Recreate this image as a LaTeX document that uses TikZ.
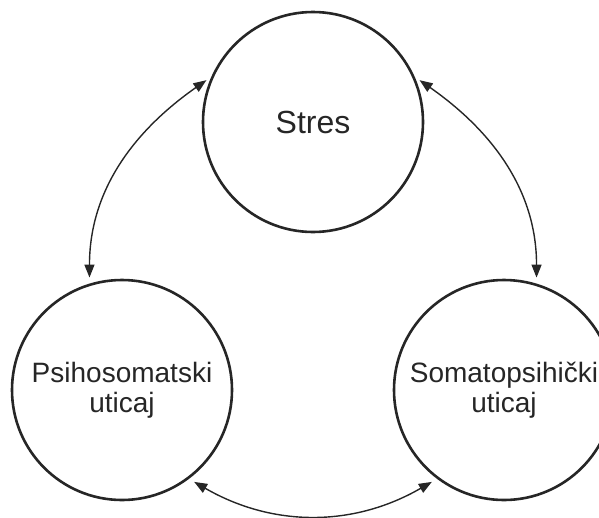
\documentclass[tikz,border=0pt]{standalone}
\usepackage{fontspec}
\setmainfont{Liberation Sans}
\usetikzlibrary{arrows.meta}
\definecolor{ink}{RGB}{38,38,38}

\begin{document}
\begin{tikzpicture}[x=1pt, y=1pt,
		krug/.style={circle, draw=ink, line width=2.6pt, minimum size=220pt, inner sep=0pt, align=center, text=ink, font=\fontsize{28}{30}\selectfont},
		veza/.style={draw=ink, line width=1.4pt, {Triangle[length=13pt,width=10pt]}-{Triangle[length=13pt,width=10pt]}, shorten <=6pt, shorten >=6pt}]
				\useasboundingbox (0,0) rectangle (599,-517);
				\node[krug, font=\fontsize{32}{30}\selectfont] (stres) at (313,-122) {Stres};
				\node[krug] (psiho) at (122,-390) {Psihosomatski\\uticaj};
				\node[krug] (somato) at (504,-390) {Somatopsihički\\uticaj};
				\draw[veza] (psiho.107) to[out=90, in=215] (stres.156);
				\draw[veza] (somato.73) to[out=90, in=-35] (stres.24);
				\draw[veza] (psiho.-53) to[out=-30, in=-150] (somato.-127);
			\end{tikzpicture}
\end{document}
